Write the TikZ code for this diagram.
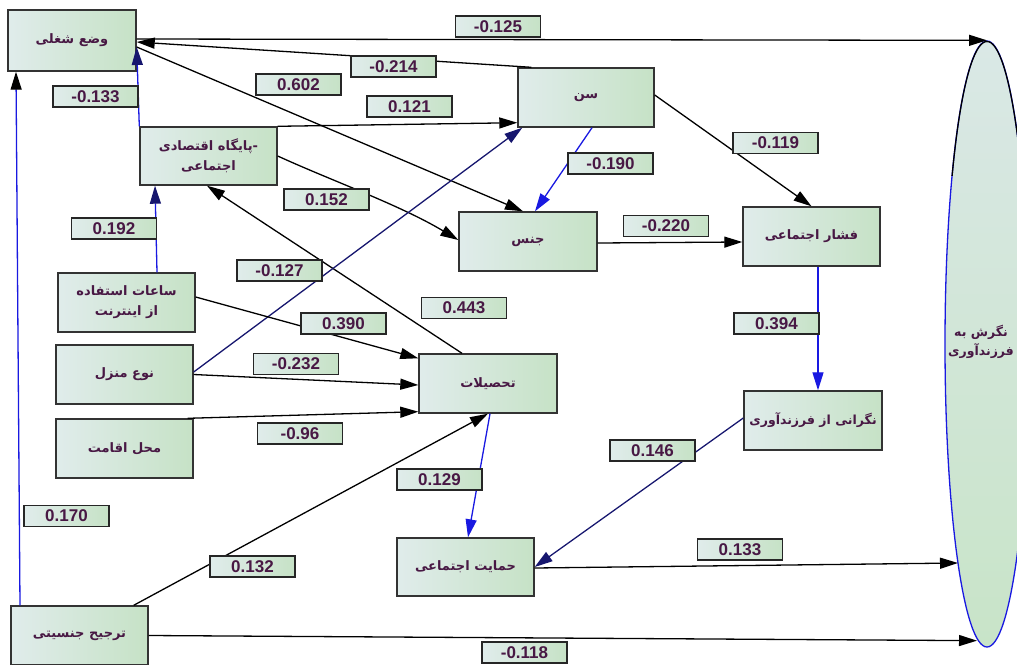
\documentclass[tikz,border=0pt]{standalone}
\usepackage{fontspec}
\setmainfont{Liberation Sans}
\newfontfamily\arabicfont[Script=Arabic]{DejaVu Sans}
\TeXXeTstate=1
\usetikzlibrary{arrows.meta,shapes.geometric,calc}
\definecolor{txt}{RGB}{72,24,68}
\definecolor{bxl}{RGB}{224,236,235}
\definecolor{bxr}{RGB}{198,226,198}
\definecolor{lnblue}{RGB}{25,25,225}
\definecolor{navy}{RGB}{22,22,110}
\definecolor{elltop}{RGB}{218,232,230}
\definecolor{ellbot}{RGB}{200,228,200}
\newcommand{\fa}[1]{{\arabicfont\bfseries\beginR #1\endR}}
\begin{document}
\begin{tikzpicture}[x=1pt,y=-1pt,
  box/.style={rectangle, draw=black!80, line width=1.4pt, left color=bxl, right color=bxr,
    minimum width=137pt, minimum height=59pt, inner sep=1pt, align=center, text=txt,
    font=\fontsize{13}{20}\selectfont},
  lab/.style={rectangle, draw=black!85, line width=1.4pt, left color=bxl, right color=bxr,
    minimum width=85pt, minimum height=21pt, inner sep=0pt, text=txt,
    font=\bfseries\fontsize{17}{17}\selectfont},
  arr/.style={line width=1.3pt, -{Triangle[length=18pt,width=11pt]}},
  barr/.style={arr, draw=lnblue, -{Triangle[length=18pt,width=11pt,color=lnblue]}},
  narr/.style={arr, draw=lnblue, -{Triangle[length=18pt,width=11pt,color=navy]}},
  karr/.style={arr, draw=lnblue, -{Triangle[length=18pt,width=11pt,color=black]}},
  darr/.style={arr, draw=navy, -{Triangle[length=18pt,width=11pt,color=navy]}}
]
\useasboundingbox (0,0) rectangle (1017,664);

% ellipse
\node[ellipse, draw=lnblue, line width=1.3pt, top color=elltop, bottom color=ellbot,
  minimum width=84pt, minimum height=606pt, inner sep=0pt] (ell) at (987,344) {};
\begin{scope}
  \clip (930,0) rectangle (1017,175);
  \draw[black, line width=1.3pt] (ell.center) ellipse [x radius=42pt, y radius=302.5pt];
\end{scope}
\node[text=txt, align=center, inner sep=0pt, font=\fontsize{12.5}{19}\selectfont] (elltext) at (981,342)
  {\fa{نگرش به}\\\fa{فرزندآوری}};

% boxes
\node[box, minimum width=128pt, minimum height=61pt] (job) at (72,40.5) {\fa{وضع شغلی}};
\node[box, minimum height=58pt] (pay) at (208.5,156) {\fa{-پایگاه اقتصادی}\\\fa{اجتماعی}};
\node[box, minimum width=136pt] (sen) at (586,97.5) {\fa{سن}};
\node[box, minimum width=138pt] (jens) at (528,241.5) {\fa{جنس}};
\node[box] (fashar) at (811.5,236.5) {\fa{فشار اجتماعی}};
\node[box] (saat) at (126.5,302.5) {\fa{ساعات استفاده}\\\fa{از اینترنت}};
\node[box] (manzel) at (124.5,374.5) {\fa{نوع منزل}};
\node[box] (mahal) at (124.5,448.5) {\fa{محل اقامت}};
\node[box, minimum width=138pt] (tahsil) at (488,383.5) {\fa{تحصیلات}};
\node[box, minimum width=138pt, font=\fontsize{12.5}{19}\selectfont] (negar) at (813,420.5) {\fa{نگرانی از فرزندآوری}};
\node[box, minimum height=58pt] (hemayat) at (465.5,567) {\fa{حمایت اجتماعی}};
\node[box] (tarjih) at (79.5,635.5) {\fa{ترجیح جنسیتی}};

% connectors
\draw[arr] ([yshift=1.5pt]job.east) -- (ell.north);
\draw[arr] ([xshift=14pt]sen.north west) -- ([yshift=-1.5pt]job.east);
\draw[arr] ([yshift=-6.5pt]job.east) -- ([xshift=-5pt]jens.north);
\draw[arr] (pay.north east) -- ([yshift=5pt]sen.south west);
\draw[narr] (pay.north west) -- ([yshift=-6.5pt]job.east);
\draw[narr] ([xshift=30.5pt]saat.north) -- ([xshift=-53.5pt]pay.south);
\draw[arr] (pay.east) .. controls (330,180) and (400,205) .. ([yshift=1.5pt]jens.west);
\draw[arr] ([xshift=-26pt]tahsil.north) -- ([xshift=-1.5pt]pay.south);
\draw[darr] ([yshift=2.5pt]manzel.east) -- ([xshift=5pt]sen.south west);
\draw[arr] ([yshift=5.5pt]saat.east) -- ([yshift=-5pt]tahsil.north west);
\draw[arr] (manzel.east) -- ([yshift=-1.5pt]tahsil.west);
\draw[arr] ([xshift=-6pt]mahal.north east) -- ([yshift=2pt]tahsil.south west);
\draw[arr] ([xshift=-15pt]tarjih.north east) -- (tahsil.south);
\draw[karr] ([xshift=-59.5pt]tarjih.north) -- ([xshift=-56pt]job.south);
\draw[arr] (tarjih.east) -- ([xshift=-10pt,yshift=7pt]ell.south);
\draw[barr] ([xshift=2pt]tahsil.south) -- ([xshift=2.5pt]hemayat.north);
\draw[darr] ([yshift=2.5pt]negar.west) -- (hemayat.east);
\draw[arr] ([yshift=-1pt]hemayat.east) -- ([xshift=-29pt,yshift=-219pt]ell.center);
\draw[arr] ([yshift=2.5pt]sen.east) -- (fashar.north);
\draw[arr] ([yshift=-1.5pt]jens.east) -- ([yshift=-5.5pt]fashar.west);
\draw[barr] ([xshift=6.5pt]fashar.south) -- ([xshift=5pt]negar.north);
\draw[barr] ([xshift=6pt]sen.south) -- ([xshift=7pt]jens.north);

% coefficient labels
\node[lab] (l1) at (498,26.5) {-0.125};
\node[lab] (l2) at (393.5,66.5) {-0.214};
\node[lab] (l3) at (298.5,84.5) {0.602};
\node[lab] (l4) at (409.5,106.5) {0.121};
\node[lab] (l5) at (95.5,96.5) {-0.133};
\node[lab] (l6) at (775.5,143) {-0.119};
\node[lab] (l7) at (610.5,163.5) {-0.190};
\node[lab] (l8) at (326.5,199.5) {0.152};
\node[lab] (l9) at (666,226) {-0.220};
\node[lab] (l10) at (114,228.5) {0.192};
\node[lab] (l11) at (279.5,270.5) {-0.127};
\node[lab] (l12) at (464,308) {0.443};
\node[lab] (l13) at (343.5,323.5) {0.390};
\node[lab] (l14) at (776.5,323.5) {0.394};
\node[lab] (l15) at (296,364) {-0.232};
\node[lab] (l16) at (300,433.5) {-0.96};
\node[lab] (l17) at (652.5,450.5) {0.146};
\node[lab] (l18) at (439.5,479.5) {0.129};
\node[lab] (l19) at (66.5,516) {0.170};
\node[lab] (l20) at (252.5,566.5) {0.132};
\node[lab] (l21) at (740,549.5) {0.133};
\node[lab] (l22) at (524.5,652.5) {-0.118};
\end{tikzpicture}
\end{document}
